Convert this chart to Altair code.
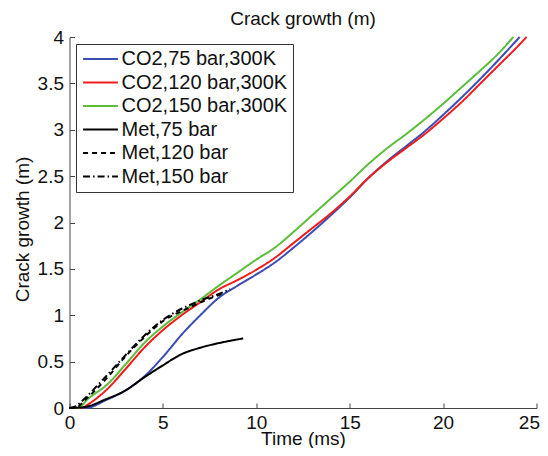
import altair as alt
import pandas as pd

series = ["CO2,75 bar,300K", "CO2,120 bar,300K", "CO2,150 bar,300K",
          "Met,75 bar", "Met,120 bar", "Met,150 bar"]
colors = ["#3a4db3", "#f01c1c", "#5cbd3c", "#000000", "#000000", "#000000"]
dashes = [[1, 0], [1, 0], [1, 0], [1, 0], [5, 4], [7, 3, 1.5, 3]]

co2_75_t = [0, 0.85, 2, 3, 4, 5, 6, 7, 8, 9, 10, 11, 12, 13, 14, 15, 16, 17, 18, 19, 20, 21, 22, 23, 24.1]
co2_75_c = [0, 0, 0.09, 0.19, 0.34, 0.55, 0.79, 1.0, 1.19, 1.32, 1.44, 1.57, 1.73, 1.9, 2.08, 2.27, 2.48, 2.66, 2.82, 2.98, 3.16, 3.35, 3.55, 3.76, 4.0]

co2_120_t = [0, 0.65, 1, 2, 3, 4, 5, 6, 7, 8, 9, 10, 11, 12, 13, 14, 15, 16, 17, 18, 19, 20, 21, 22, 23, 24, 24.47]
co2_120_c = [0, 0, 0.04, 0.2, 0.42, 0.65, 0.84, 1.0, 1.14, 1.28, 1.38, 1.49, 1.62, 1.78, 1.94, 2.1, 2.28, 2.48, 2.65, 2.8, 2.95, 3.12, 3.3, 3.5, 3.7, 3.9, 4.0]

co2_150_t = [0, 0.45, 1, 2, 3, 4, 5, 6, 7, 8, 9, 10, 11, 12, 13, 14, 15, 16, 17, 18, 19, 20, 21, 22, 23, 23.76]
co2_150_c = [0, 0, 0.1, 0.25, 0.47, 0.7, 0.88, 1.03, 1.17, 1.32, 1.46, 1.6, 1.73, 1.9, 2.08, 2.26, 2.44, 2.63, 2.8, 2.95, 3.11, 3.28, 3.46, 3.64, 3.83, 4.0]

met_75_t = [0, 0.8, 1.9, 3, 4, 5, 6, 7, 8, 9.3]
met_75_c = [0, 0.01, 0.09, 0.19, 0.33, 0.46, 0.58, 0.65, 0.7, 0.75]

met_120_t = [0, 0.4, 0.83, 1.9, 2.97, 4.04, 5.1, 6.18, 7.25, 8.3]
met_120_c = [0, 0.01, 0.086, 0.3, 0.55, 0.77, 0.95, 1.06, 1.16, 1.24]

met_150_t = [0, 0.35, 0.8, 1.9, 3, 4, 5, 6, 7, 8, 8.6]
met_150_c = [0, 0.02, 0.1, 0.33, 0.57, 0.78, 0.95, 1.07, 1.16, 1.23, 1.28]

x_ticks = [0, 5, 10, 15, 20, 25]
y_ticks = [0, 0.5, 1, 1.5, 2, 2.5, 3, 3.5, 4]

all_t = [co2_75_t, co2_120_t, co2_150_t, met_75_t, met_120_t, met_150_t]
all_c = [co2_75_c, co2_120_c, co2_150_c, met_75_c, met_120_c, met_150_c]
rows = []
for name, ts, cs in zip(series, all_t, all_c):
    for t, c in zip(ts, cs):
        rows.append({"series": name, "t": t, "c": c})
df = pd.DataFrame(rows)

FONT = "Liberation Sans"
FS = 19
xscale = alt.Scale(domain=[0, 25], nice=False, zero=False)
yscale = alt.Scale(domain=[0, 4], nice=False, zero=False)

legend = alt.Legend(title=None, orient="none", legendX=6.5, legendY=7,
                    symbolType="M-3,0H3", symbolSize=135, symbolStrokeWidth=2,
                    symbolOffset=9.5, labelOffset=11,
                    labelFontSize=20, labelFont=FONT, labelColor="#111",
                    strokeColor="#333", fillColor="white", padding=5,
                    rowPadding=3.5, labelLimit=300)

lines = alt.Chart(df).mark_line(strokeWidth=2, interpolate="monotone").encode(
    x=alt.X("t:Q", scale=xscale,
            axis=alt.Axis(values=x_ticks, title="Time (ms)", ticks=False, tickSize=0,
                          labelPadding=5, labelFontSize=FS, titleFontSize=FS,
                          titleFontWeight="normal", titleY=36, titleBaseline="alphabetic",
                          domainColor="#444", labelColor="#111", titleColor="#111",
                          labelAlign=alt.ExprRef(expr="datum.value == 25 ? 'right' : 'center'"),
                          labelOffset=alt.ExprRef(expr="datum.value == 25 ? 3 : 0"),
                          grid=False, labelFlush=False, orient="bottom", format="~g")),
    y=alt.Y("c:Q", scale=yscale,
            axis=alt.Axis(values=y_ticks, title="Crack growth (m)", ticks=False, tickSize=0,
                          labelPadding=6, labelFontSize=FS, titleFontSize=FS,
                          titleFontWeight="normal", titleX=-41.5, titleY=192,
                          titleBaseline="alphabetic",
                          domainColor="#444", labelColor="#111", titleColor="#111",
                          grid=False, labelFlush=False, orient="left", format="~g")),
    color=alt.Color("series:N", scale=alt.Scale(domain=series, range=colors), legend=legend),
    strokeDash=alt.StrokeDash("series:N", scale=alt.Scale(domain=series, range=dashes), legend=legend),
)

ticks = alt.Chart(df).mark_point(opacity=0, size=1).encode(
    x=alt.X("t:Q", scale=xscale,
            axis=alt.Axis(values=x_ticks, title=None, labels=False, domain=False,
                          ticks=True, tickSize=5, tickColor="#444", offset=-5,
                          grid=False, orient="bottom")),
    y=alt.Y("c:Q", scale=yscale,
            axis=alt.Axis(values=y_ticks, title=None, labels=False, domain=False,
                          ticks=True, tickSize=5, tickColor="#444", offset=-5,
                          grid=False, orient="left")),
)

chart = alt.layer(lines, ticks).resolve_axis(x="independent", y="independent").properties(
    width=467, height=371,
    title=alt.TitleParams("Crack growth (m)", fontSize=FS, font=FONT, fontWeight="normal",
                          color="#111", offset=2, dy=3, anchor="middle"),
    autosize="none",
    padding={"left": 61.5, "top": 29, "right": 3.5, "bottom": 40},
).configure(font=FONT).configure_view(stroke=None)

chart.save("out.html", embed_options={"renderer": "svg", "actions": False})
